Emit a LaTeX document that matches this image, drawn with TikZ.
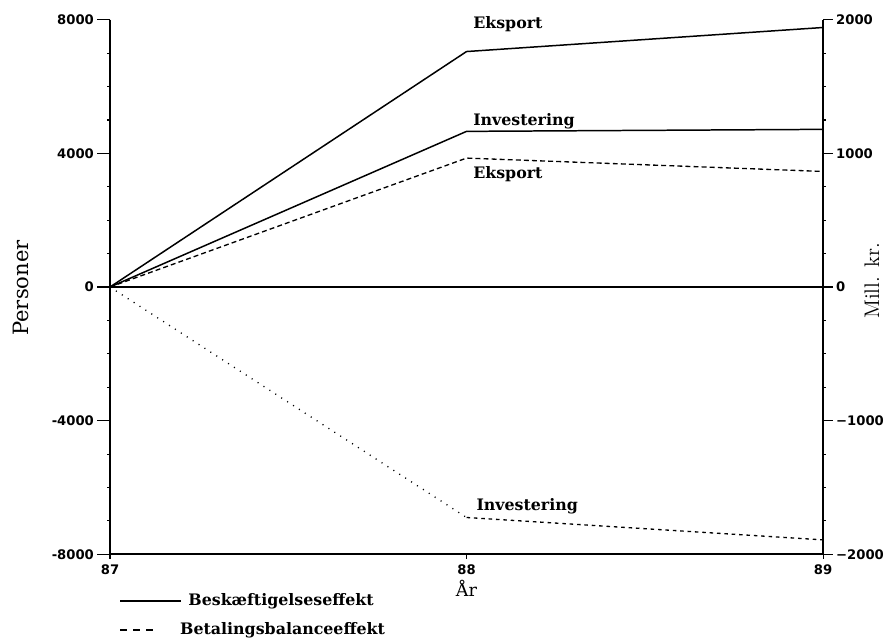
\documentclass[tikz,border=0pt]{standalone}
\usepackage{fontspec}
\newfontfamily\labelfont{DejaVu Serif}
\newfontfamily\tickfont{DejaVu Sans}
\begin{document}
\begin{tikzpicture}[x=7.13cm,y=0.668cm,
  axis/.style={line width=1.1pt},
  curve/.style={line width=0.85pt},
  dashcurve/.style={line width=0.75pt,dash pattern=on 2.8pt off 1.8pt},
  dotcurve/.style={line width=0.75pt,dash pattern=on 0.6pt off 3.4pt},
  ticklab/.style={font=\tickfont\bfseries\fontsize{7.5}{9}\selectfont,inner sep=1pt},
  curvelab/.style={font=\labelfont\bfseries\fontsize{9}{11}\selectfont,anchor=base west,inner sep=0pt},
  legendlab/.style={font=\labelfont\bfseries\fontsize{9}{11}\selectfont,anchor=west,inner sep=0pt}]
\useasboundingbox (-0.3086,-10.629) rectangle (2.185,8.593);
% axes
\draw [axis] (0,8) -- (0,-8) -- (2,-8) -- (2,8);
\draw [curve] (0,0) -- (2,0);
% ticks left (persons) and right (mill. kr.)
\foreach \v in {-8,...,8}
  \draw [line width=0.6pt] (0,\v) -- ++(-0.06cm,0) (2,\v) -- ++(0.06cm,0);
\foreach \v in {-8,-4,0,4,8} {
  \draw [line width=0.7pt] (0,\v) -- ++(-0.26cm,0);
  \draw [line width=0.7pt] (2,\v) -- ++(0.2cm,0);
}
\foreach \v/\t in {8/8000,4/4000,0/0,-4/-4000,-8/-8000}
  \node [ticklab,anchor=east] (l\t) at ([xshift=-0.28cm]0,\v) {\t};
\foreach \v/\t/\n in {8/2000/a,4/1000/b,0/0/c,-4/−1000/d,-8/−2000/e}
  \node [ticklab,anchor=west] (r\n) at ([xshift=0.22cm]2,\v) {\t};
% years
\foreach \x/\t in {0/87,1/88,2/89} {
  \draw [line width=0.6pt] (\x,-8) -- ++(0,-0.1cm);
  \node [ticklab,anchor=north] (y\t) at ([yshift=-0.16cm]\x,-8) {\t};
}
\node [font=\labelfont\fontsize{10}{12}\selectfont,anchor=north,inner sep=0pt] (aar) at ([yshift=-0.06cm]y88.south) {År};
\node [font=\labelfont\fontsize{12}{14}\selectfont,rotate=90] (pers) at (-0.2497,-0.03) {Personer};
\node [font=\fontsize{12}{14}\selectfont,rotate=90] (mill) at (2.137,0.18) {Mill. kr.};
% beskaeftigelseseffekt
\draw [curve] (0,0) -- (1,7.05) -- (2,7.77);
\draw [curve] (0,0) -- (1,4.66) -- (2,4.72);
% betalingsbalanceeffekt
\draw [dashcurve] (0,0) -- (1,3.86) -- (2,3.46);
\draw [dotcurve] (0,0) -- (1,-6.9);
\draw [dashcurve,dash pattern=on 2pt off 2.2pt] (1,-6.9) -- (2,-7.57);
\node [curvelab] (eksA) at (1.018,7.75) {Eksport};
\node [curvelab] (invA) at (1.018,4.85) {Investering};
\node [curvelab] (eksB) at (1.018,3.26) {Eksport};
\node [curvelab] (invB) at (1.027,-6.70) {Investering};
% legend
\coordinate (legA) at (0.028,-9.40);
\coordinate (legB) at (0.028,-10.27);
\node [legendlab] (besk) at (0.219,-9.40) {Beskæftigelseseffekt};
\node [legendlab] (betal) at (0.196,-10.27) {Betalingsbalanceeffekt};
\draw [line width=1.3pt] (legA) -- ([xshift=-0.14cm]besk.west);
\draw [line width=0.8pt,dash pattern=on 4pt off 3.5pt] (legB) -- ([xshift=-0.42cm]betal.west);
\end{tikzpicture}
\end{document}
